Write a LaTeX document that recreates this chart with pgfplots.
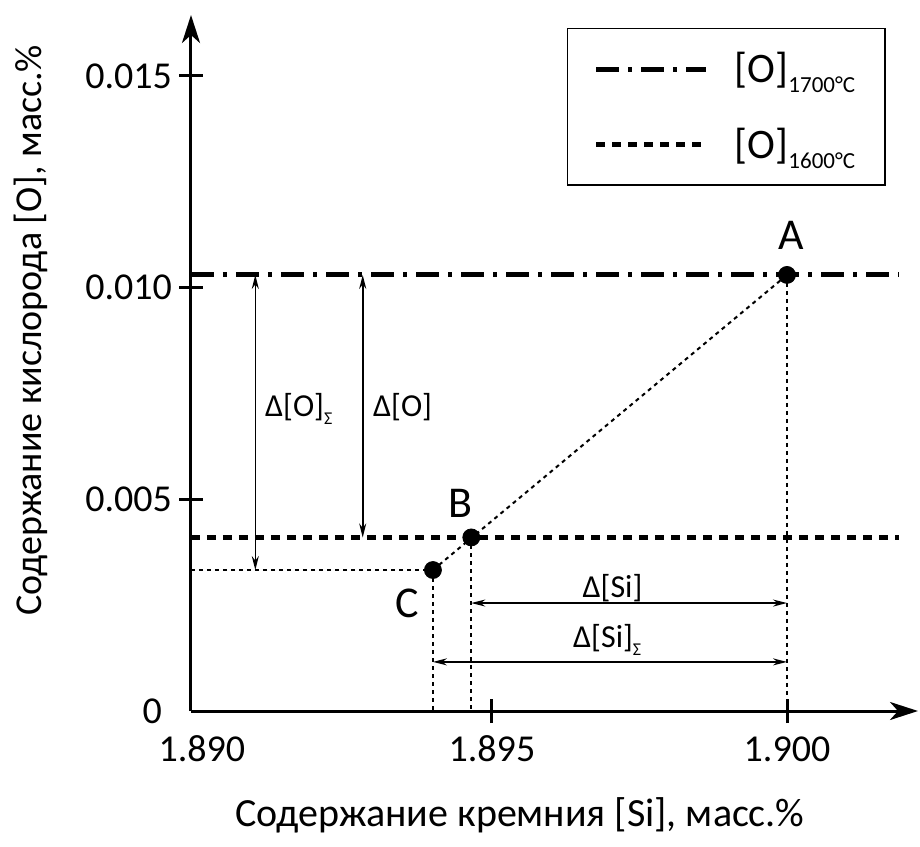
\documentclass[border=0pt]{standalone}
\usepackage{fontspec}
\setmainfont{Carlito}[Numbers=Lining]
\usepackage{pgfplots}
\pgfplotsset{compat=1.18}
\usetikzlibrary{arrows.meta}

% equilibrium oxygen levels
\def\OhighVal{0.0103}
\def\OlowVal{0.0041}
\newcommand{\sub}[1]{\raisebox{-5pt}{\fontsize{11.5}{12}\selectfont #1}}

\begin{document}
\begin{tikzpicture}
\useasboundingbox (-95.5pt,-67.5pt) rectangle (364.5pt,355.5pt);
\begin{axis}[
  at={(0,0)}, anchor=south west,
  scale only axis, width=363.5pt, height=348pt,
  xmin=1.8899, xmax=1.90222, ymin=0, ymax=0.01644,
  axis lines=left,
  x axis line style={line width=1.5pt, -{Stealth[length=14pt,width=9pt,inset=4pt]}},
  y axis line style={line width=1.5pt, -{Stealth[length=14pt,width=9pt,inset=4pt]}},
  tick align=center, major tick length=12pt,
  tick style={line width=1.5pt, black},
  xtick={1.895,1.900}, xticklabels={1.895,1.900},
  ytick={0.005,0.010,0.015}, yticklabels={0.005,0.010,0.015},
  xticklabel style={anchor=base, yshift=-19pt},
  % origin labels without tick marks
  extra x ticks={1.890}, extra x tick labels={1.890},
  extra x tick style={major tick style={draw=none}, xticklabel style={xshift=2.5pt}},
  extra y ticks={0}, extra y tick labels={0},
  extra y tick style={major tick style={draw=none}, yticklabel style={xshift=-5pt}},
  scaled ticks=false,
  /pgf/number format/assume math mode=true,
  tick label style={font=\fontsize{19}{21}\selectfont},
  xlabel={Содержание кремния [Si], масс.\%},
  ylabel={Содержание кислорода [O], масс.\%},
  xlabel style={font=\fontsize{20}{24}\selectfont, at={(axis description cs:0.4525,-0.1494)}, anchor=center},
  ylabel style={font=\fontsize{19}{23}\selectfont, at={(axis description cs:-0.2201,0.547)}, anchor=center},
  legend style={at={(axis description cs:0.517,0.982)}, anchor=north west,
    draw=black, line width=0.8pt, font=\fontsize{21}{24}\selectfont,
    inner xsep=13pt, inner ysep=10pt, row sep=17pt},
  legend cell align=left,
  legend image code/.code={\draw[#1] (0pt,0pt) -- (55pt,0pt);},
  clip=false,
]
% construction lines
\addplot[black, line width=1pt, dash pattern=on 2pt off 2pt, forget plot]
  coordinates {(1.8940,0.00333) (1.9000,0.0103)};
\addplot[black, line width=1pt, dash pattern=on 2pt off 2pt, forget plot]
  coordinates {(1.8899,0.00333) (1.8940,0.00333)};
\addplot[black, line width=1pt, dash pattern=on 2pt off 2pt, forget plot]
  coordinates {(1.8940,0.00333) (1.8940,0)};
\addplot[black, line width=1pt, dash pattern=on 2pt off 2pt, forget plot]
  coordinates {(1.89465,0.0041) (1.89465,0)};
\addplot[black, line width=1pt, dash pattern=on 2pt off 2pt, forget plot]
  coordinates {(1.9000,0.0103) (1.9000,0)};

% equilibrium levels
\addplot[black, line width=2.5pt, dash pattern=on 11.5pt off 4.5pt on 2pt off 4.5pt]
  coordinates {(1.8899,\OhighVal) (1.9019,\OhighVal)};
\addlegendentry{\hspace{11pt}[O]\sub{1700°C}}
\addplot[black, line width=2.6pt, dash pattern=on 4.5pt off 3.5pt]
  coordinates {(1.8899,\OlowVal) (1.9019,\OlowVal)};
\addlegendentry{\hspace{11pt}[O]\sub{1600°C}}

% dimension arrows
\addplot[black, line width=0.8pt, {Stealth[length=7pt,width=3.5pt]}-{Stealth[length=7pt,width=3.5pt]}, forget plot]
  coordinates {(1.89099,0.0103) (1.89099,0.00333)};
\addplot[black, line width=0.8pt, {Stealth[length=7pt,width=3.5pt]}-{Stealth[length=7pt,width=3.5pt]}, forget plot]
  coordinates {(1.89281,0.0103) (1.89281,0.0041)};
\addplot[black, line width=0.8pt, {Stealth[length=7pt,width=3.5pt]}-{Stealth[length=7pt,width=3.5pt]}, forget plot]
  coordinates {(1.89465,0.00255) (1.9000,0.00255)};
\addplot[black, line width=0.8pt, {Stealth[length=7pt,width=3.5pt]}-{Stealth[length=7pt,width=3.5pt]}, forget plot]
  coordinates {(1.8940,0.00116) (1.9000,0.00116)};

% points A, B, C
\addplot[only marks, mark=*, mark size=4.25pt, black, forget plot]
  coordinates {(1.9000,0.0103) (1.89465,0.0041) (1.8940,0.00333)};

\node[anchor=base, font=\fontsize{22}{24}\selectfont] at (axis cs:1.90007,0.01091) {A};
\node[anchor=base, font=\fontsize{22}{24}\selectfont] at (axis cs:1.89447,0.00458) {B};
\node[anchor=base, font=\fontsize{22}{24}\selectfont] at (axis cs:1.89356,0.00222) {C};

\node[anchor=base west, inner sep=0pt, font=\fontsize{16}{18}\selectfont] at (axis cs:1.89115,0.00695)
  {Δ[O]\raisebox{-4pt}{\fontsize{9}{10}\selectfont Σ}};
\node[anchor=base west, inner sep=0pt, font=\fontsize{16}{18}\selectfont] at (axis cs:1.89298,0.00695)
  {Δ[O]};
\node[anchor=base west, inner sep=0pt, font=\fontsize{16}{18}\selectfont] at (axis cs:1.89653,0.00267)
  {Δ[Si]};
\node[anchor=base west, inner sep=0pt, font=\fontsize{16}{18}\selectfont] at (axis cs:1.89637,0.00151)
  {Δ[Si]\raisebox{-4pt}{\fontsize{9}{10}\selectfont Σ}};
\end{axis}
\end{tikzpicture}
\end{document}
